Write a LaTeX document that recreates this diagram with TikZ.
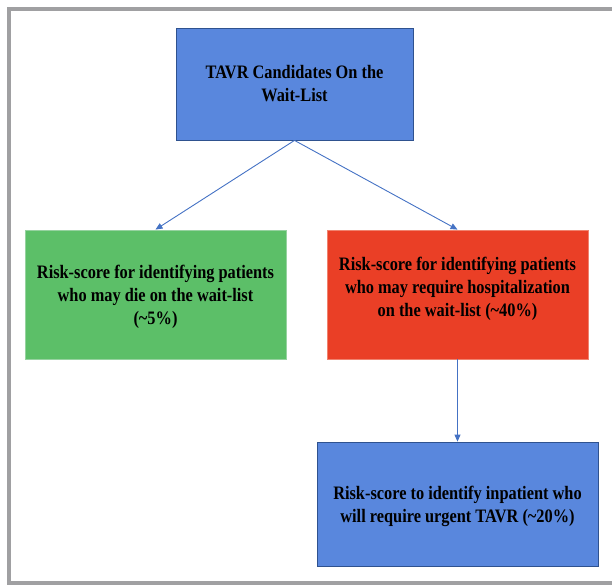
\documentclass[tikz,border=0pt]{standalone}
\usepackage{fontspec}
\setmainfont{Liberation Serif}
\newfontfamily\boxfont[FakeStretch=0.86]{Liberation Serif}
\definecolor{boxblue}{RGB}{89,135,221}
\definecolor{edgeblue}{RGB}{47,82,143}
\definecolor{boxgreen}{RGB}{92,191,104}
\definecolor{edgegreen}{RGB}{150,210,160}
\definecolor{boxred}{RGB}{234,63,38}
\definecolor{edgered}{RGB}{240,130,110}
\definecolor{arrowblue}{RGB}{68,114,196}
\definecolor{framegray}{RGB}{160,160,162}
\usetikzlibrary{arrows.meta}

\begin{document}
\begin{tikzpicture}[x=1pt, y=-1pt,
      arr/.style={-{Triangle[length=7pt,width=6pt]}, line width=0.9pt, arrowblue},
      card/.style={draw, line width=0.8pt, align=center, inner sep=0pt,
                   font=\boxfont\fontsize{19}{23}\selectfont\bfseries}
    ]
    \useasboundingbox (0,0) rectangle (612,585);
    \draw[framegray, line width=3.6pt] (612,9) -- (9,9) -- (9,583) -- (612,583);

    \node[card, fill=boxblue, draw=edgeblue, minimum width=237pt, minimum height=112pt]
      (cand) at (294.5,84) {TAVR Candidates On the\\Wait-List};
    \node[card, fill=boxgreen, draw=edgegreen, minimum width=261pt, minimum height=129pt]
      (death) at (155.5,294.5) {\rule{0pt}{19pt}Risk-score for identifying patients\\
      who may die on the wait-list\\(\textasciitilde5\%)};
    \node[card, fill=boxred, draw=edgered, minimum width=261pt, minimum height=129pt]
      (hosp) at (457.5,294.5) {Risk-score for identifying patients\\
      who may require hospitalization\\
      on the wait-list (\textasciitilde40\%)\rule[-16pt]{0pt}{0pt}};
    \node[card, fill=boxblue, draw=edgeblue, minimum width=281pt, minimum height=124pt]
      (urgent) at (457.5,504) {\rule{0pt}{19pt}Risk-score to identify inpatient who\\
      will require urgent TAVR (\textasciitilde20\%)};

    \draw[arr] (cand.south) -- (death.north);
    \draw[arr] (cand.south) -- (hosp.north);
    \draw[arr] (hosp.south) -- (urgent.north);
  \end{tikzpicture}
\end{document}
